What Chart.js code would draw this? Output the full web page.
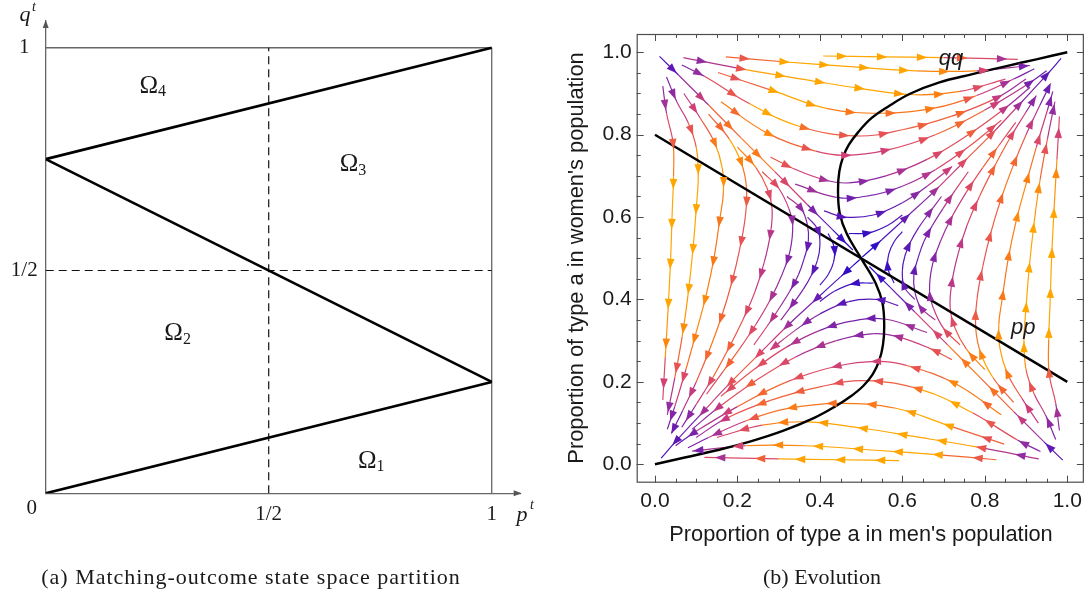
<!DOCTYPE html>
<html>
<head>
<meta charset="utf-8">
<script src="https://cdn.jsdelivr.net/npm/chart.js"></script>
<style>
  body { margin: 0; background: #fff; width: 1088px; height: 594px; position: relative; overflow: hidden; }
  canvas { position: absolute; top: 0; }
  #left { left: 0; }
  #right { left: 545px; }
  .cap { position: absolute; top: 564px; font-family: "Liberation Serif", serif; font-size: 22px; color: #1a1a1a;
         white-space: nowrap; transform: translateX(-50%); line-height: 26px; }
</style>
</head>
<body>
<canvas id="left" width="545" height="594"></canvas>
<canvas id="right" width="543" height="594"></canvas>
<div class="cap" style="left:251px; letter-spacing:1px">(a) Matching-outcome state space partition</div>
<div class="cap" style="left:822px">(b) Evolution</div>
<script>
// ---- panel (a): partition of the state space ----
var boundaryTop = [0, 0.75, 1, 1];
var boundaryMid = [0, 0.75, 1, 0.25];
var boundaryLow = [0, 0, 1, 0.25];
var frameTop = [0, 1, 1, 1];
var frameRight = [1, 0, 1, 1];
var halfP = [0.5, 0, 0.5, 1];
var halfQ = [0, 0.5, 1, 0.5];
var stateTicks = [0.5, 1];
var stateTickLabels = ['1/2', '1'];
var regionIds = ['1', '2', '3', '4'];
var regionP = [0.735, 0.301, 0.694, 0.245];
var regionQ = [0.072, 0.359, 0.737, 0.914];

// ---- panel (b): evolution, stream lines as [p0,q0, p1,q1, ...] in flow order ----
var ppLine = [0, 0.8, 1, 0.2];
var qqCurve = [0, 0, 0.075, 0.017, 0.15, 0.034, 0.23, 0.055, 0.31, 0.081, 0.385, 0.112, 0.44, 0.142,
  0.475, 0.165, 0.505, 0.19, 0.528, 0.218, 0.544, 0.252, 0.553, 0.29, 0.556, 0.334, 0.552, 0.39,
  0.535, 0.44, 0.5, 0.5, 0.465, 0.56, 0.448, 0.61, 0.444, 0.666, 0.447, 0.71, 0.456, 0.745, 0.47, 0.775,
  0.492, 0.805, 0.525, 0.84, 0.565, 0.868, 0.62, 0.9, 0.69, 0.927, 0.77, 0.947, 0.85, 0.966, 0.925, 0.983, 1, 1];

var streamTop = [
  [0.408, 0.991, 0.55, 0.989, 0.7, 0.987, 0.88, 0.983],
  [0.172, 0.989, 0.311, 0.977, 0.465, 0.966, 0.634, 0.955, 0.78, 0.955, 0.91, 0.968],
  [0.069, 0.987, 0.214, 0.959, 0.368, 0.933, 0.5, 0.912, 0.63, 0.897, 0.74, 0.905, 0.85, 0.935],
  [0.153, 0.951, 0.291, 0.905, 0.416, 0.864, 0.553, 0.852, 0.68, 0.865, 0.78, 0.895, 0.87, 0.935, 0.92, 0.96],
  [0.065, 0.969, 0.121, 0.941, 0.23, 0.875, 0.351, 0.82, 0.489, 0.797, 0.6, 0.812, 0.72, 0.845, 0.83, 0.89, 0.9, 0.935],
  [0.16, 0.88, 0.27, 0.805, 0.39, 0.76, 0.46, 0.75, 0.56, 0.762, 0.68, 0.8, 0.8, 0.86, 0.9, 0.92, 0.95, 0.955],
  [0.28, 0.746, 0.335, 0.718, 0.412, 0.69, 0.47, 0.683, 0.56, 0.7, 0.66, 0.74, 0.76, 0.8, 0.85, 0.865, 0.91, 0.915],
  [0.34, 0.68, 0.44, 0.648, 0.52, 0.652, 0.6, 0.675, 0.68, 0.715, 0.76, 0.77, 0.84, 0.835],
  [0.41, 0.615, 0.46, 0.6, 0.53, 0.605, 0.6, 0.635, 0.66, 0.675, 0.72, 0.722],
  [0.47, 0.56, 0.52, 0.562, 0.565, 0.58, 0.6, 0.605]
];
var streamBottom = [
  [0.592, 0.009, 0.45, 0.011, 0.3, 0.013, 0.12, 0.017],
  [0.828, 0.011, 0.689, 0.023, 0.535, 0.034, 0.366, 0.045, 0.22, 0.045, 0.09, 0.032],
  [0.931, 0.013, 0.786, 0.041, 0.632, 0.067, 0.5, 0.088, 0.37, 0.103, 0.26, 0.095, 0.15, 0.065],
  [0.847, 0.049, 0.709, 0.095, 0.584, 0.136, 0.447, 0.148, 0.32, 0.135, 0.22, 0.105, 0.13, 0.065, 0.08, 0.04],
  [0.935, 0.031, 0.879, 0.059, 0.77, 0.125, 0.649, 0.18, 0.511, 0.203, 0.4, 0.188, 0.28, 0.155, 0.17, 0.11, 0.1, 0.065],
  [0.84, 0.12, 0.73, 0.195, 0.61, 0.24, 0.54, 0.25, 0.44, 0.238, 0.32, 0.2, 0.2, 0.14, 0.1, 0.08, 0.05, 0.045],
  [0.72, 0.254, 0.665, 0.282, 0.588, 0.31, 0.53, 0.317, 0.44, 0.3, 0.34, 0.26, 0.24, 0.2, 0.15, 0.135, 0.09, 0.085],
  [0.66, 0.32, 0.56, 0.352, 0.48, 0.348, 0.4, 0.325, 0.32, 0.285, 0.24, 0.23, 0.16, 0.165],
  [0.59, 0.385, 0.54, 0.4, 0.47, 0.395, 0.4, 0.365, 0.34, 0.325, 0.28, 0.278],
  [0.53, 0.44, 0.48, 0.438, 0.435, 0.42, 0.4, 0.395]
];
var streamLeft = [
  [0.019, 0.918, 0.028, 0.852, 0.044, 0.779, 0.045, 0.698, 0.042, 0.617, 0.038, 0.5, 0.032, 0.38, 0.025, 0.26, 0.019, 0.156],
  [0.028, 0.94, 0.053, 0.88, 0.08, 0.83, 0.1, 0.77, 0.105, 0.7, 0.1, 0.62, 0.092, 0.52, 0.08, 0.41, 0.066, 0.31, 0.048, 0.21, 0.03, 0.12],
  [0.07, 0.9, 0.11, 0.84, 0.145, 0.78, 0.163, 0.72, 0.166, 0.66, 0.158, 0.6, 0.143, 0.5, 0.124, 0.41, 0.1, 0.32, 0.075, 0.23, 0.048, 0.14, 0.03, 0.085],
  [0.13, 0.85, 0.18, 0.79, 0.21, 0.73, 0.222, 0.67, 0.219, 0.6, 0.205, 0.52, 0.186, 0.44, 0.162, 0.36, 0.133, 0.28, 0.1, 0.2, 0.067, 0.13, 0.04, 0.075],
  [0.2, 0.77, 0.245, 0.72, 0.272, 0.67, 0.284, 0.62, 0.28, 0.56, 0.265, 0.49, 0.243, 0.42, 0.213, 0.35, 0.178, 0.28, 0.14, 0.21, 0.1, 0.145, 0.065, 0.09],
  [0.26, 0.71, 0.3, 0.67, 0.325, 0.62, 0.334, 0.58, 0.328, 0.52, 0.308, 0.46, 0.28, 0.4, 0.245, 0.34, 0.205, 0.28, 0.165, 0.225, 0.125, 0.17],
  [0.32, 0.65, 0.355, 0.62, 0.37, 0.58, 0.372, 0.54, 0.362, 0.5, 0.348, 0.46, 0.327, 0.42, 0.302, 0.38, 0.272, 0.335, 0.24, 0.29],
  [0.37, 0.6, 0.395, 0.57, 0.4, 0.53, 0.394, 0.495, 0.38, 0.46, 0.36, 0.425, 0.335, 0.39, 0.305, 0.35],
  [0.42, 0.56, 0.435, 0.525, 0.433, 0.49, 0.42, 0.46, 0.4, 0.435]
];
var streamRight = [
  [0.981, 0.082, 0.972, 0.148, 0.956, 0.221, 0.955, 0.302, 0.958, 0.383, 0.962, 0.5, 0.968, 0.62, 0.975, 0.74, 0.981, 0.844],
  [0.972, 0.06, 0.947, 0.12, 0.92, 0.17, 0.9, 0.23, 0.895, 0.3, 0.9, 0.38, 0.908, 0.48, 0.92, 0.59, 0.934, 0.69, 0.952, 0.79, 0.97, 0.88],
  [0.93, 0.1, 0.89, 0.16, 0.855, 0.22, 0.837, 0.28, 0.834, 0.34, 0.842, 0.4, 0.857, 0.5, 0.876, 0.59, 0.9, 0.68, 0.925, 0.77, 0.952, 0.86, 0.965, 0.905],
  [0.87, 0.15, 0.82, 0.21, 0.79, 0.27, 0.778, 0.33, 0.781, 0.4, 0.795, 0.48, 0.814, 0.56, 0.838, 0.64, 0.867, 0.72, 0.9, 0.8, 0.933, 0.87, 0.955, 0.915],
  [0.8, 0.23, 0.755, 0.28, 0.728, 0.33, 0.716, 0.38, 0.72, 0.44, 0.735, 0.51, 0.757, 0.58, 0.787, 0.65, 0.822, 0.72, 0.86, 0.79, 0.9, 0.855, 0.925, 0.895],
  [0.74, 0.29, 0.7, 0.33, 0.675, 0.38, 0.666, 0.42, 0.672, 0.48, 0.692, 0.54, 0.72, 0.6, 0.755, 0.66, 0.795, 0.72, 0.835, 0.775, 0.875, 0.83],
  [0.68, 0.35, 0.645, 0.38, 0.63, 0.42, 0.628, 0.46, 0.638, 0.5, 0.652, 0.54, 0.673, 0.58, 0.698, 0.62, 0.728, 0.665, 0.76, 0.71],
  [0.63, 0.4, 0.605, 0.43, 0.6, 0.47, 0.606, 0.505, 0.62, 0.54, 0.64, 0.575, 0.665, 0.61, 0.695, 0.65],
  [0.58, 0.44, 0.565, 0.475, 0.567, 0.51, 0.58, 0.54, 0.6, 0.565]
];
var separatrices = [
  [0.011, 0.99, 0.057, 0.945, 0.13, 0.872, 0.21, 0.791, 0.29, 0.711, 0.37, 0.63, 0.43, 0.57, 0.48, 0.52],
  [0.989, 0.01, 0.943, 0.055, 0.87, 0.128, 0.79, 0.209, 0.71, 0.29, 0.63, 0.37, 0.57, 0.43, 0.52, 0.48],
  [0.497, 0.497, 0.45, 0.455, 0.39, 0.4, 0.32, 0.335, 0.25, 0.265, 0.18, 0.195, 0.11, 0.12, 0.05, 0.055, 0.015, 0.015],
  [0.503, 0.503, 0.55, 0.545, 0.61, 0.6, 0.68, 0.665, 0.75, 0.735, 0.82, 0.805, 0.89, 0.88, 0.95, 0.945, 0.985, 0.985]
];
var evoTicks = [0, 0.2, 0.4, 0.6, 0.8, 1.0];

var TEXT = '#1a1a1a';
var SERIF = '"Liberation Serif", "DejaVu Serif", serif';
var SANS = '"Liberation Sans", Arial, sans-serif';

function pairs(flat) {
  var out = [];
  for (var i = 0; i < flat.length; i += 2) out.push({ x: flat[i], y: flat[i + 1] });
  return out;
}
function clamp01(v) { return Math.max(0, Math.min(1, v)); }

// colour by how fast the flow is: slow near the rest points, fast along the edge middles
var rampStops = [
  [0.0, 45, 12, 200], [0.2, 95, 25, 180], [0.4, 148, 45, 160], [0.55, 205, 62, 122],
  [0.68, 228, 80, 88], [0.8, 242, 100, 52], [0.9, 252, 126, 18], [1.0, 255, 166, 0]
];
function ramp(s) {
  for (var i = 1; i < rampStops.length; i++) {
    var a = rampStops[i - 1], b = rampStops[i];
    if (s <= b[0]) {
      var t = (s - a[0]) / (b[0] - a[0]);
      return 'rgb(' + Math.round(a[1] + (b[1] - a[1]) * t) + ',' + Math.round(a[2] + (b[2] - a[2]) * t) + ',' +
        Math.round(a[3] + (b[3] - a[3]) * t) + ')';
    }
  }
  return 'rgb(255,166,0)';
}
function speedColour(x, y) {
  var dc = Math.hypot(x - 0.5, y - 0.5);
  var dk = Math.min(Math.hypot(x, y), Math.hypot(1 - x, y), Math.hypot(x, 1 - y), Math.hypot(1 - x, 1 - y));
  var s = clamp01((dc - 0.04) / 0.36) * clamp01(dk / 0.3) * (0.75 + 0.25 * clamp01(Math.abs(x - y) / 0.35));
  return ramp(s);
}

function head(c, x, y, ux, uy, len, half) {
  c.beginPath();
  c.moveTo(x + ux * len * 0.5, y + uy * len * 0.5);
  c.lineTo(x - ux * len * 0.5 - uy * half, y - uy * len * 0.5 + ux * half);
  c.lineTo(x - ux * len * 0.5 + uy * half, y - uy * len * 0.5 - ux * half);
  c.closePath();
  c.fill();
}

// ---------------- panel (a) ----------------
function plain(flat, width, colour, dash) {
  return { data: pairs(flat), showLine: true, pointRadius: 0, borderColor: colour, borderWidth: width,
    borderDash: dash || [], fill: false, tension: 0 };
}

var leftDecor = {
  id: 'leftDecor',
  afterDraw: function (chart) {
    var c = chart.ctx, xs = chart.scales.x, ys = chart.scales.y;
    var x0 = xs.getPixelForValue(0), y0 = ys.getPixelForValue(0);
    c.save();
    c.fillStyle = '#555';
    head(c, xs.right - 3, y0, 1, 0, 8, 3);
    head(c, x0, ys.top + 3, 0, -1, 8, 3);
    c.fillStyle = TEXT;
    c.textAlign = 'center';
    c.textBaseline = 'middle';
    c.font = '21px ' + SERIF;
    c.fillText('0', x0 - 14, y0 + 15);
    c.font = 'italic 22px ' + SERIF;
    c.fillText('p', 522, 515);
    c.fillText('q', 25, 15);
    c.font = 'italic 14px ' + SERIF;
    c.fillText('t', 532, 505);
    c.fillText('t', 34, 7);
    for (var i = 0; i < regionIds.length; i++) {
      var px = xs.getPixelForValue(regionP[i]), py = ys.getPixelForValue(regionQ[i]);
      c.font = '25px ' + SERIF;
      c.textAlign = 'right';
      c.fillText('\u03A9', px + 3, py);
      c.font = '16px ' + SERIF;
      c.textAlign = 'left';
      c.fillText(regionIds[i], px + 3, py + 6);
    }
    c.restore();
  }
};

new Chart(document.getElementById('left'), {
  type: 'scatter',
  data: {
    datasets: [
      plain(boundaryTop, 2.6, '#000'),
      plain(boundaryMid, 2.6, '#000'),
      plain(boundaryLow, 2.6, '#000'),
      plain(halfP, 1.2, '#111', [8, 5]),
      plain(halfQ, 1.2, '#111', [8, 5]),
      plain(frameTop, 1.3, '#666'),
      plain(frameRight, 1.3, '#666')
    ]
  },
  options: {
    responsive: false,
    animation: false,
    events: [],
    layout: { padding: { top: 21, right: 24.3, left: 0, bottom: 0 } },
    plugins: { legend: { display: false }, tooltip: { enabled: false } },
    scales: {
      x: {
        type: 'linear', min: 0, max: 1.065,
        afterFit: function (s) { s.height = 100.7; },
        afterBuildTicks: function (s) { s.ticks = stateTicks.map(function (v) { return { value: v }; }); },
        grid: { display: false, drawTicks: false },
        border: { display: true, color: '#666', width: 1.3 },
        ticks: { color: TEXT, font: { family: SERIF, size: 21 }, padding: 9, maxRotation: 0, autoSkip: false,
          callback: function (v) { return stateTickLabels[stateTicks.indexOf(v)]; } }
      },
      y: {
        type: 'linear', min: 0, max: 1.06,
        afterFit: function (s) { s.width = 45.7; },
        afterBuildTicks: function (s) { s.ticks = stateTicks.map(function (v) { return { value: v }; }); },
        grid: { display: false, drawTicks: false },
        border: { display: true, color: '#666', width: 1.3 },
        ticks: { color: TEXT, font: { family: SERIF, size: 21 }, padding: 8, crossAlign: 'center', autoSkip: false,
          callback: function (v) { return stateTickLabels[stateTicks.indexOf(v)]; } }
      }
    }
  },
  plugins: [leftDecor]
});

// ---------------- panel (b) ----------------
function streamSet(flat) {
  var pts = pairs(flat);
  return {
    data: pts, stream: true, showLine: true, pointRadius: 0, borderWidth: 1.2, tension: 0.4, fill: false,
    borderColor: speedColour(pts[0].x, pts[0].y),
    segment: {
      borderColor: function (ctx) {
        var a = pts[ctx.p0DataIndex], b = pts[ctx.p1DataIndex];
        return speedColour((a.x + b.x) / 2, (a.y + b.y) / 2);
      }
    }
  };
}

var arrowHeads = {
  id: 'arrowHeads',
  afterDatasetsDraw: function (chart) {
    var c = chart.ctx, xs = chart.scales.x, ys = chart.scales.y;
    c.save();
    chart.data.datasets.forEach(function (ds, i) {
      if (!ds.stream) return;
      var els = chart.getDatasetMeta(i).data;
      var gap = 40, next = 19, run = 0;
      var px = els[0].x, py = els[0].y;
      for (var k = 1; k < els.length; k++) {
        var a = els[k - 1], b = els[k];
        var c1x = a.cp2x === undefined ? a.x : a.cp2x, c1y = a.cp2y === undefined ? a.y : a.cp2y;
        var c2x = b.cp1x === undefined ? b.x : b.cp1x, c2y = b.cp1y === undefined ? b.y : b.cp1y;
        for (var s = 1; s <= 12; s++) {
          var t = s / 12, u = 1 - t;
          var qx = u * u * u * a.x + 3 * u * u * t * c1x + 3 * u * t * t * c2x + t * t * t * b.x;
          var qy = u * u * u * a.y + 3 * u * u * t * c1y + 3 * u * t * t * c2y + t * t * t * b.y;
          var len = Math.hypot(qx - px, qy - py);
          while (len > 0 && run + len >= next) {
            var f = (next - run) / len;
            var hx = px + (qx - px) * f, hy = py + (qy - py) * f;
            c.fillStyle = speedColour(xs.getValueForPixel(hx), ys.getValueForPixel(hy));
            head(c, hx, hy, (qx - px) / len, (qy - py) / len, 10.5, 3.8);
            next += gap;
          }
          run += len;
          px = qx; py = qy;
        }
      }
    });
    c.restore();
  }
};

var frameDecor = {
  id: 'frameDecor',
  afterDraw: function (chart) {
    var c = chart.ctx, a = chart.chartArea, xs = chart.scales.x, ys = chart.scales.y;
    c.save();
    c.strokeStyle = '#4d4d4d';
    c.lineWidth = 1.2;
    c.strokeRect(a.left + 0.5, a.top + 0.5, a.right - a.left - 1, a.bottom - a.top - 1);
    c.lineWidth = 1;
    c.beginPath();
    for (var k = 0; k <= 20; k++) {
      var v = k * 0.05, len = k % 4 === 0 ? 7 : 4;
      var tx = Math.round(xs.getPixelForValue(v)) + 0.5, ty = Math.round(ys.getPixelForValue(v)) + 0.5;
      c.moveTo(tx, a.bottom); c.lineTo(tx, a.bottom - len);
      c.moveTo(tx, a.top); c.lineTo(tx, a.top + len);
      c.moveTo(a.left, ty); c.lineTo(a.left + len, ty);
      c.moveTo(a.right, ty); c.lineTo(a.right - len, ty);
    }
    c.stroke();
    c.fillStyle = TEXT;
    c.textAlign = 'center';
    c.textBaseline = 'middle';
    c.font = 'italic 22px ' + SANS;
    c.fillText('qq', xs.getPixelForValue(0.718), ys.getPixelForValue(0.984));
    c.fillText('pp', xs.getPixelForValue(0.893), ys.getPixelForValue(0.33));
    c.font = '21.8px ' + SANS;
    c.fillText("Proportion of type a in men's population", 316, 535);
    c.translate(32, 258);
    c.rotate(-Math.PI / 2);
    c.fillText("Proportion of type a in women's population", 0, 0);
    c.restore();
  }
};

var evoSets = [
  { data: pairs(qqCurve), showLine: true, pointRadius: 0, borderColor: '#000', borderWidth: 2.4, tension: 0.4, fill: false },
  { data: pairs(ppLine), showLine: true, pointRadius: 0, borderColor: '#000', borderWidth: 2.4, tension: 0, fill: false }
];
[streamTop, streamBottom, streamLeft, streamRight, separatrices].forEach(function (group) {
  group.forEach(function (line) { evoSets.push(streamSet(line)); });
});

new Chart(document.getElementById('right'), {
  type: 'scatter',
  data: { datasets: evoSets },
  options: {
    responsive: false,
    animation: false,
    events: [],
    layout: { padding: { top: 34, right: 3.7, left: 0, bottom: 0 } },
    plugins: { legend: { display: false }, tooltip: { enabled: false } },
    scales: {
      x: {
        type: 'linear', min: -0.0443, max: 1.0402,
        afterFit: function (s) { s.height = 111.3; },
        afterBuildTicks: function (s) { s.ticks = evoTicks.map(function (v) { return { value: v }; }); },
        grid: { display: false, drawTicks: false },
        border: { display: false },
        ticks: { color: TEXT, font: { family: SANS, size: 21 }, padding: 6, maxRotation: 0, autoSkip: false,
          callback: function (v) { return v.toFixed(1); } }
      },
      y: {
        type: 'linear', min: -0.0447, max: 1.0444,
        afterFit: function (s) { s.width = 91.7; },
        afterBuildTicks: function (s) { s.ticks = evoTicks.map(function (v) { return { value: v }; }); },
        grid: { display: false, drawTicks: false },
        border: { display: false },
        ticks: { color: TEXT, font: { family: SANS, size: 21 }, padding: 5, autoSkip: false,
          callback: function (v) { return v.toFixed(1); } }
      }
    }
  },
  plugins: [arrowHeads, frameDecor]
});
</script>
</body>
</html>
